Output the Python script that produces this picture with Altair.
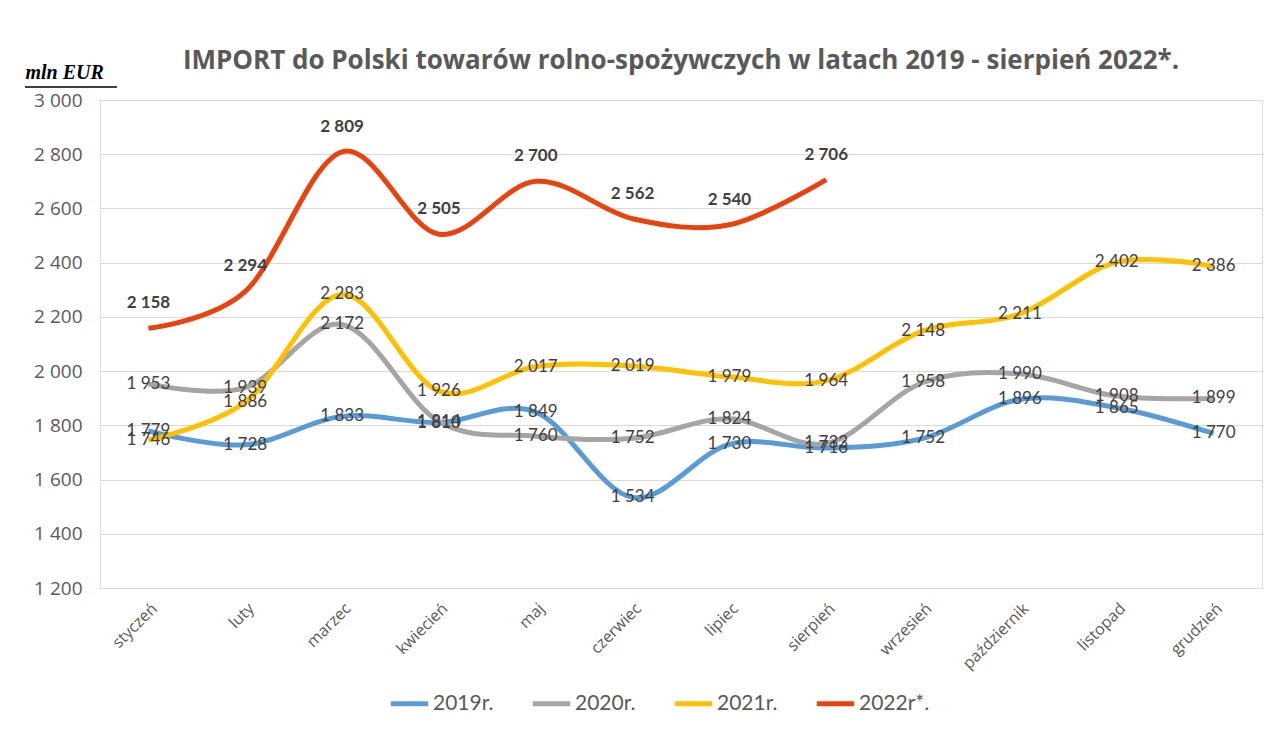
import altair as alt
import pandas as pd

months = ["styczeń", "luty", "marzec", "kwiecień", "maj", "czerwiec", "lipiec",
          "sierpień", "wrzesień", "październik", "listopad", "grudzień"]
series_names = ["2019r.", "2020r.", "2021r.", "2022r*."]
v2019 = [1779, 1728, 1833, 1810, 1849, 1534, 1730, 1716, 1752, 1896, 1865, 1770]
v2020 = [1953, 1939, 2172, 1814, 1760, 1752, 1824, 1733, 1958, 1990, 1908, 1899]
v2021 = [1746, 1886, 2283, 1926, 2017, 2019, 1979, 1964, 2148, 2211, 2402, 2386]
v2022 = [2158, 2294, 2809, 2505, 2700, 2562, 2540, 2706]
colors = ["#5b9bd5", "#a5a5a5", "#ffc000", "#e8430f"]

rows = []
for name, vals in zip(series_names, [v2019, v2020, v2021, v2022]):
    for i, v in enumerate(vals):
        rows.append({"miesiac": months[i], "seria": name, "wartosc": v,
                     "label": f"{v:,}".replace(",", " ")})
df = pd.DataFrame(rows)

FONT = "Lato"
FONT2 = "Open Sans"
GRAY = "#595959"

x = alt.X("miesiac:N", sort=months, title=None,
          scale=alt.Scale(type="point", padding=0.5),
          axis=alt.Axis(labelAngle=-45, labelFontSize=16, labelColor=GRAY, labelFont=FONT2,
                        ticks=False, domain=True, domainColor="#d9d9d9", labelPadding=12))
y = alt.Y("wartosc:Q", scale=alt.Scale(domain=[1200, 3000], nice=False, zero=False),
          title="mln EUR",
          axis=alt.Axis(values=list(range(1200, 3001, 200)), labelFontSize=19, labelColor=GRAY,
                        labelFont=FONT2, ticks=False, domain=False, gridColor="#d9d9d9",
                        labelPadding=18,
                        labelExpr="replace(format(datum.value, ','), ',', ' ')",
                        titleAngle=0, titleX=-75, titleY=-22, titleAlign="left",
                        titleBaseline="alphabetic", titleFont="Liberation Serif",
                        titleFontSize=20, titleFontStyle="italic", titleFontWeight="bold",
                        titleColor="#000000"))

color = alt.Color("seria:N", scale=alt.Scale(domain=series_names, range=colors),
                  legend=alt.Legend(title=None, orient="none", legendX=288, legendY=582,
                                    direction="horizontal", symbolType="stroke",
                                    symbolStrokeWidth=5, symbolSize=1400,
                                    labelFontSize=21, labelColor=GRAY, labelFont=FONT,
                                    columnPadding=28, labelOffset=2))

base = alt.Chart(df)
lines = base.mark_line(strokeWidth=5, interpolate="cardinal").encode(
    x=x, y=y, color=color, order=alt.Order("seria:N"))

labels_other = base.transform_filter(alt.datum.seria != "2022r*.").mark_text(
    fontSize=17, color="#404040", font=FONT, baseline="middle").encode(
    x=x, y=y, text="label:N")

labels_2022 = base.transform_filter(alt.datum.seria == "2022r*.").mark_text(
    fontSize=17, fontWeight="bold", color="#404040", font=FONT, baseline="middle",
    dy=-25).encode(x=x, y=y, text="label:N")

underline = alt.Chart(pd.DataFrame({"a": [0]})).mark_rule(color="#000000", strokeWidth=1.5).encode(
    x=alt.value(-75), x2=alt.value(17), y=alt.value(-13))

chart = alt.layer(lines, labels_other, labels_2022, underline).properties(
    width=1162, height=488,
    autosize=alt.AutoSizeParams(type="none"),
    padding={"left": 92, "top": 92, "right": 10, "bottom": 135},
    title=alt.TitleParams(
        "IMPORT do Polski towarów rolno-spożywczych w latach 2019 - sierpień 2022*.",
        fontSize=26, font=FONT2, fontWeight="bold", color=GRAY, offset=-12, anchor="middle"),
).configure_view(stroke=None).configure(background="white")

chart.save("out.html", embed_options={"renderer": "svg", "actions": False})
